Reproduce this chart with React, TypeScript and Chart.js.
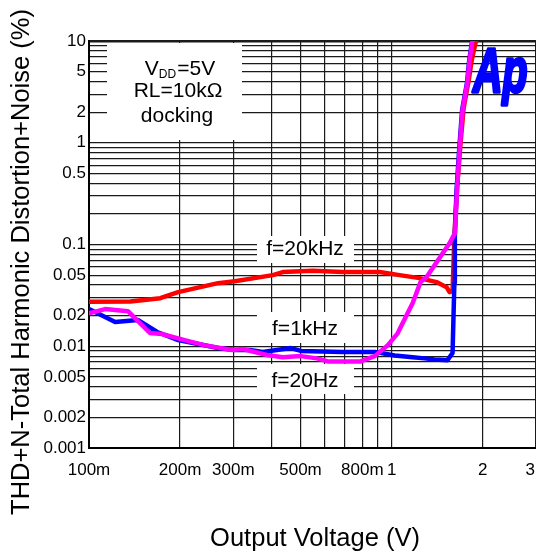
import React, { useEffect, useRef } from 'react';
import { Chart, registerables } from 'chart.js';

Chart.register(...registerables);

const FONT = '"Liberation Sans", Arial, Helvetica, sans-serif';

// Axis ticks
const xTickValues = [0.1, 0.2, 0.3, 0.4, 0.5, 0.6, 0.7, 0.8, 0.9, 1, 2, 3];
const xLabelValues = [0.1, 0.2, 0.3, 0.5, 0.8, 1, 2, 3];
const xLabelTexts = ['100m', '200m', '300m', '500m', '800m', '1', '2', '3'];

const yTickValues = [
  0.001, 0.002, 0.003, 0.004, 0.005, 0.006, 0.007, 0.008, 0.009,
  0.01, 0.02, 0.03, 0.04, 0.05, 0.06, 0.07, 0.08, 0.09,
  0.1, 0.2, 0.3, 0.4, 0.5, 0.6, 0.7, 0.8, 0.9,
  1, 2, 3, 4, 5, 6, 7, 8, 9, 10,
];
const yLabelValues = [10, 5, 2, 1, 0.5, 0.1, 0.05, 0.02, 0.01, 0.005, 0.002, 0.001];
const yLabelTexts = ['10', '5', '2', '1', '0.5', '0.1', '0.05', '0.02', '0.01', '0.005', '0.002', '0.001'];

// f = 20 kHz (red)
const f20kX = [0.1, 0.137, 0.172, 0.197, 0.267, 0.303, 0.405, 0.437, 0.549, 0.689, 0.913, 1.063, 1.237, 1.408, 1.519, 1.554, 1.59, 1.614, 1.65, 1.69, 1.73, 1.8, 1.84, 1.9];
const f20kY = [0.0273, 0.0275, 0.0297, 0.034, 0.0417, 0.0436, 0.05, 0.0536, 0.0551, 0.0536, 0.0536, 0.05, 0.0467, 0.0427, 0.0381, 0.034, 0.0348, 0.13, 0.4, 1.0, 2.2, 4.2, 6.5, 10];

// f = 1 kHz (blue)
const f1kX = [0.1, 0.122, 0.145, 0.168, 0.197, 0.267, 0.303, 0.34, 0.375, 0.465, 0.501, 0.689, 0.879, 1.023, 1.173, 1.285, 1.387, 1.53, 1.59, 1.612, 1.618, 1.64, 1.672, 1.71, 1.775, 1.805, 1.845];
const f1kY = [0.0232, 0.0173, 0.0181, 0.0138, 0.0115, 0.0096, 0.0092, 0.0092, 0.0088, 0.0096, 0.009, 0.0088, 0.0088, 0.0081, 0.0078, 0.0076, 0.0074, 0.0073, 0.0086, 0.042, 0.13, 0.35, 0.85, 2.1, 3.9, 6.5, 10];

// f = 20 Hz (magenta)
const f20X = [0.1, 0.113, 0.1345, 0.159, 0.174, 0.207, 0.242, 0.297, 0.322, 0.387, 0.437, 0.501, 0.566, 0.615, 0.79, 0.879, 0.97, 1.047, 1.129, 1.173, 1.246, 1.305, 1.408, 1.554, 1.62, 1.645, 1.677, 1.715, 1.78, 1.81, 1.85];
const f20Y = [0.0211, 0.0232, 0.0221, 0.0135, 0.0132, 0.0115, 0.0102, 0.0092, 0.0094, 0.0082, 0.0078, 0.008, 0.0076, 0.0071, 0.0071, 0.008, 0.0102, 0.0134, 0.0211, 0.0265, 0.0427, 0.0478, 0.067, 0.103, 0.13, 0.35, 0.85, 2.1, 3.9, 6.5, 10];

const toPoints = (xs: number[], ys: number[]) => xs.map((x, i) => ({ x, y: ys[i] }));

const findLabel = (v: number, vals: number[], texts: string[]) => {
  for (let i = 0; i < vals.length; i++) {
    if (Math.abs(v / vals[i] - 1) < 1e-6) return texts[i];
  }
  return '';
};

const decorPlugin = {
  id: 'decor',
  beforeDatasetsDraw(chart: any) {
    const ctx = chart.ctx as CanvasRenderingContext2D;
    ctx.save();
    // white annotation boxes
    ctx.fillStyle = '#ffffff';
    ctx.fillRect(107, 43, 135, 97);
    ctx.fillRect(257, 236, 97, 27);
    ctx.fillRect(257, 312, 97, 31);
    ctx.fillRect(257, 364, 97, 30);

    ctx.fillStyle = '#000';
    ctx.textBaseline = 'alphabetic';
    // VDD=5V with subscript
    const big = `21px ${FONT}`;
    const small = `12px ${FONT}`;
    ctx.font = big;
    const wV = ctx.measureText('V').width;
    const wRest = ctx.measureText('=5V').width;
    ctx.font = small;
    const wDD = ctx.measureText('DD').width + 1;
    const total = wV + wDD + wRest;
    let sx = 180 - total / 2;
    ctx.textAlign = 'left';
    ctx.font = big;
    ctx.fillText('V', sx, 75);
    sx += wV;
    ctx.font = small;
    ctx.fillText('DD', sx, 78);
    sx += wDD;
    ctx.font = big;
    ctx.fillText('=5V', sx, 75);

    ctx.textAlign = 'center';
    ctx.fillText('RL=10kΩ', 178, 97);
    ctx.fillText('docking', 177, 122);

    ctx.fillText('f=20kHz', 305, 255);
    ctx.fillText('f=1kHz', 305, 335);
    ctx.fillText('f=20Hz', 305, 387);

    // Ap logo
    ctx.save();
    ctx.fillStyle = '#0000ff';
    ctx.strokeStyle = '#0000ff';
    ctx.lineWidth = 2.2;
    ctx.lineJoin = 'round';
    ctx.font = `italic bold 41px ${FONT}`;
    ctx.textAlign = 'left';
    ctx.translate(473, 92);
    ctx.scale(1, 1.55);
    ctx.fillText('Ap', 0, 0);
    ctx.strokeText('Ap', 0, 0);
    ctx.restore();

    ctx.restore();
  },
  afterDraw(chart: any) {
    const ctx = chart.ctx as CanvasRenderingContext2D;
    const xs = chart.scales.x;
    ctx.save();
    ctx.fillStyle = '#000';
    ctx.font = `17px ${FONT}`;
    ctx.textAlign = 'center';
    ctx.textBaseline = 'middle';
    const W = chart.width;
    xLabelValues.forEach((v, i) => {
      const t = xLabelTexts[i];
      const w = ctx.measureText(t).width;
      let px = xs.getPixelForValue(v);
      if (px + w / 2 > W - 1) px = W - 1 - w / 2;
      ctx.fillText(t, px, 470);
    });

    // axis titles
    ctx.font = `25.5px ${FONT}`;
    ctx.textBaseline = 'alphabetic';
    ctx.fillText('Output Voltage (V)', 315, 546);
    ctx.save();
    ctx.translate(29, 262);
    ctx.rotate(-Math.PI / 2);
    ctx.fillText('THD+N-Total Harmonic Distortion+Noise (%)', 0, 0);
    ctx.restore();
    ctx.restore();
  },
};

export default function App() {
  const ref = useRef<HTMLCanvasElement | null>(null);

  useEffect(() => {
    if (!ref.current) return;
    const common = {
      borderWidth: 4.5,
      pointRadius: 0,
      tension: 0,
      borderJoinStyle: 'round',
      borderCapStyle: 'round',
    };
    const chart = new Chart(ref.current, {
      type: 'line',
      data: {
        datasets: [
          {
            label: 'f=20Hz',
            data: toPoints(f20X, f20Y),
            borderColor: '#ff00ff',
            backgroundColor: '#ff00ff',
            order: 0,
            ...common,
          },
          {
            label: 'f=1kHz',
            data: toPoints(f1kX, f1kY),
            borderColor: '#0000ff',
            backgroundColor: '#0000ff',
            order: 1,
            ...common,
          },
          {
            label: 'f=20kHz',
            data: toPoints(f20kX, f20kY),
            borderColor: '#ff0000',
            backgroundColor: '#ff0000',
            order: 2,
            ...common,
          },
        ],
      },
      options: {
        responsive: false,
        animation: false,
        layout: { padding: { top: 41, left: 0, right: 0, bottom: 0 } },
        plugins: {
          legend: { display: false },
          tooltip: { enabled: false },
        },
        scales: {
          x: {
            type: 'logarithmic',
            min: 0.1,
            max: 3,
            afterBuildTicks: (s: any) => {
              s.ticks = xTickValues.map((v) => ({ value: v }));
            },
            afterFit: (s: any) => {
              s.height = 110;
              s.paddingLeft = 0;
              s.paddingRight = 0;
            },
            ticks: { display: false, autoSkip: false },
            grid: {
              color: '#1a1a1a',
              lineWidth: 1.2,
              drawTicks: false,
            },
            border: { color: '#000', width: 2 },
          },
          y: {
            type: 'logarithmic',
            min: 0.001,
            max: 10,
            afterBuildTicks: (s: any) => {
              s.ticks = yTickValues.map((v) => ({ value: v }));
            },
            afterFit: (s: any) => {
              s.width = 89;
              s.paddingTop = 0;
              s.paddingBottom = 0;
            },
            ticks: {
              autoSkip: false,
              padding: 3,
              color: '#000',
              font: { family: FONT, size: 17 },
              callback: (v: any) => findLabel(Number(v), yLabelValues, yLabelTexts),
            },
            grid: {
              color: '#1a1a1a',
              lineWidth: (c: any) => (c.tick && c.tick.value === 10 ? 2.5 : 1.2),
              drawTicks: false,
            },
            border: { color: '#000', width: 2 },
          },
        },
      },
      plugins: [decorPlugin],
    } as any);
    return () => chart.destroy();
  }, []);

  return (
    <div style={{ position: 'fixed', left: 0, top: 0, width: 536, height: 558, background: '#fff' }}>
      <canvas ref={ref} width={536} height={558} style={{ width: 536, height: 558, display: 'block' }} />
    </div>
  );
}
